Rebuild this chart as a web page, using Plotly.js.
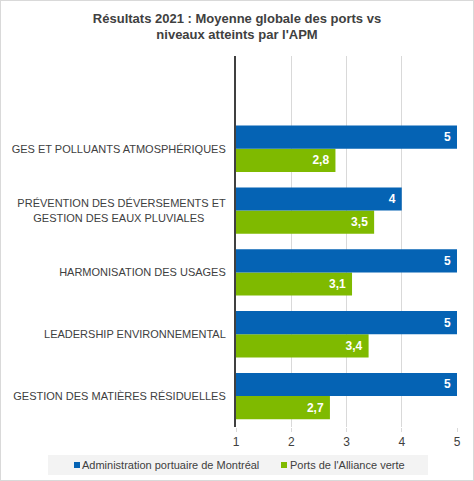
<!DOCTYPE html>
<html><head><meta charset="utf-8">
<script src="https://cdn.plot.ly/plotly-3.0.1.min.js"></script>
<style>
html,body{margin:0;padding:0;background:#fff;}
#chart{width:472px;height:479px;border:1px solid #d9d9d9;}
</style></head>
<body><div id="chart"></div>
<script>
const categories = [
  "GES ET POLLUANTS ATMOSPHÉRIQUES",
  "PRÉVENTION DES DÉVERSEMENTS ET<br>GESTION DES EAUX PLUVIALES\u00a0\u00a0\u00a0\u00a0\u00a0\u00a0\u00a0",
  "HARMONISATION DES USAGES",
  "LEADERSHIP ENVIRONNEMENTAL",
  "GESTION DES MATIÈRES RÉSIDUELLES"
];
const apmValues = [5, 4, 5, 5, 5];
const allianceValues = [2.8, 3.5, 3.1, 3.4, 2.7];
const apmName = "Administration portuaire de Montréal";
const allianceName = "Ports de l'Alliance verte";
const xTicks = [1, 2, 3, 4, 5];

const FONT = 'Liberation Sans';
const BLUE = '#0563b4', GREEN = '#7fba00';
const fmt = v => String(v).replace('.', ',') + '\u00a0';
const yOrder = categories.slice().reverse().concat([" "]);

const base = 1;
function mk(name, vals, color) {
  return {
    type: 'bar', orientation: 'h', name: name,
    y: categories, x: vals.map(v => v - base), base: base,
    marker: {color: color},
    text: vals.map(fmt), textposition: 'inside', insidetextanchor: 'end',
    textfont: {color: '#ffffff', size: 12, family: FONT, weight: 'bold'},
    hoverinfo: 'none'
  };
}
const traceGreen = mk(allianceName, allianceValues, GREEN);
const traceBlue = mk(apmName, apmValues, BLUE);

// Manual legend (paper coords relative to plot area: x 235..456, y 55..426)
const L = 235, R = 456, T = 55, B = 426;
const px = x => (x - L) / (R - L);
const py = y => (B - y) / (B - T);
const legendShapes = [
  {type: 'rect', xref: 'paper', yref: 'paper', x0: px(47), x1: px(427), y0: py(454), y1: py(474),
   fillcolor: '#f3f3f3', line: {width: 0}, layer: 'below'},
  {type: 'rect', xref: 'paper', yref: 'paper', x0: px(73), x1: px(79), y0: py(461), y1: py(467),
   fillcolor: BLUE, line: {width: 0}},
  {type: 'rect', xref: 'paper', yref: 'paper', x0: px(280), x1: px(286), y0: py(461), y1: py(467),
   fillcolor: GREEN, line: {width: 0}}
];
const legendAnn = [
  {xref: 'paper', yref: 'paper', x: px(79), y: py(464), xanchor: 'left', yanchor: 'middle',
   text: apmName, showarrow: false, font: {size: 11, color: '#404040', family: FONT}},
  {xref: 'paper', yref: 'paper', x: px(287), y: py(464), xanchor: 'left', yanchor: 'middle',
   text: allianceName, showarrow: false, font: {size: 11, color: '#404040', family: FONT}}
];

const layout = {
  width: 472, height: 479,
  margin: {l: L, r: 472 - R, t: T, b: 479 - B},
  paper_bgcolor: '#ffffff', plot_bgcolor: '#ffffff',
  font: {family: FONT, color: '#404040', size: 11},
  title: {
    text: "<b>Résultats 2021 : Moyenne globale des ports vs<br>niveaux atteints par l'APM</b>",
    x: 0.5, xanchor: 'center', xref: 'container',
    y: 0.955, yanchor: 'top', yref: 'container',
    font: {size: 13, color: '#404040', family: FONT}
  },
  barmode: 'group', bargap: 0.25, bargroupgap: 0,
  xaxis: {
    range: [1, 5], tickvals: xTicks, ticktext: xTicks.map(String),
    showgrid: true, gridcolor: '#d9d9d9', gridwidth: 1,
    zeroline: false, showline: false,
    ticks: 'outside', ticklen: 4, tickcolor: '#d9d9d9',
    tickfont: {size: 12, color: '#404040'}, fixedrange: true
  },
  yaxis: {
    type: 'category', categoryorder: 'array', categoryarray: yOrder,
    range: [-0.5, 5.5],
    showline: true, linecolor: '#404040', linewidth: 2,
    showgrid: false, ticks: '', ticklabelstandoff: 6,
    tickfont: {size: 11, color: '#404040'}, fixedrange: true
  },
  showlegend: false,
  shapes: legendShapes,
  annotations: legendAnn
};

Plotly.newPlot('chart', [traceGreen, traceBlue], layout, {displayModeBar: false, staticPlot: true});
</script></body></html>
